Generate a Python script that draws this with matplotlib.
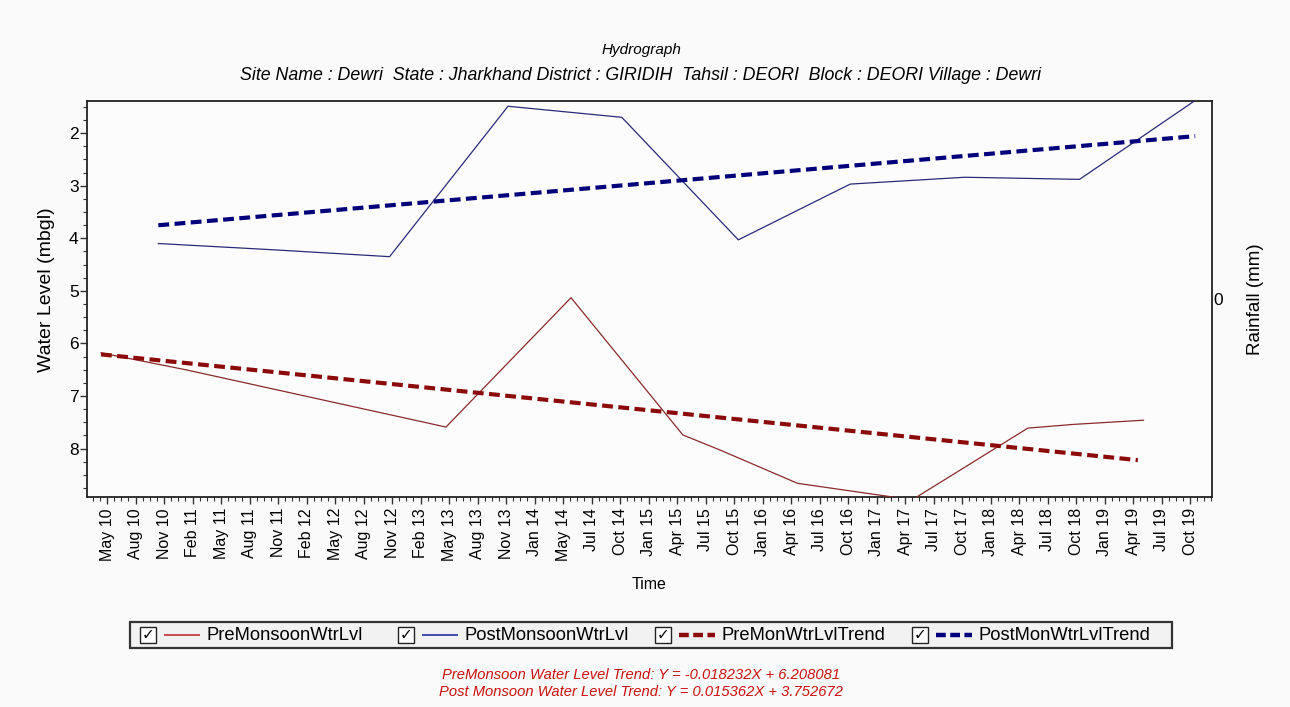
import numpy as np
import matplotlib
matplotlib.use("Agg")
import matplotlib.pyplot as plt
from matplotlib.lines import Line2D
from matplotlib.patches import Rectangle
from matplotlib.ticker import MultipleLocator, FixedLocator

# ---------------- data ----------------
# x in months since May 2010 (first pre-monsoon record)
pre_x = [0.0, 9.0, 36.7, 50.0, 61.9, 65.9, 74.1, 85.0, 86.6, 98.6, 103.4, 110.9]
pre_y = [6.18, 6.50, 7.59, 5.13, 7.74, 8.03, 8.66, 8.94, 8.94, 7.61, 7.54, 7.46]

post_x = [6.1, 18.4, 30.7, 43.3, 55.4, 67.8, 79.7, 91.9, 104.1, 116.4]
post_y = [4.10, 4.22, 4.35, 1.49, 1.70, 4.03, 2.97, 2.84, 2.88, 1.38]

# trend equations as printed (water level sign convention: depth = b - m*X)
pre_slope, pre_icpt = -0.018232, 6.208081
post_slope, post_icpt = 0.015362, 3.752672
pre_trend_span = (0.0, 110.3)     # months covered by pre trend
post_trend_span = (6.1, 116.4)    # months covered by post trend

tick_labels = ["May 10", "Aug 10", "Nov 10", "Feb 11", "May 11", "Aug 11", "Nov 11",
               "Feb 12", "May 12", "Aug 12", "Nov 12", "Feb 13", "May 13", "Aug 13",
               "Nov 13", "Jan 14", "May 14", "Jul 14", "Oct 14", "Jan 15", "Apr 15",
               "Jul 15", "Oct 15", "Jan 16", "Apr 16", "Jul 16", "Oct 16", "Jan 17",
               "Apr 17", "Jul 17", "Oct 17", "Jan 18", "Apr 18", "Jul 18", "Oct 18",
               "Jan 19", "Apr 19", "Jul 19", "Oct 19"]

legend_labels = ["PreMonsoonWtrLvl", "PostMonsoonWtrLvl", "PreMonWtrLvlTrend", "PostMonWtrLvlTrend"]

# ---------------- style ----------------
W, H = 1290, 707
plt.rcParams['font.family'] = ['Liberation Sans', 'DejaVu Sans']
BG = '#fafafa'
PRE_C = '#8a2a2a'
POST_C = '#2a2a78'
PRE_T = '#8b0a0a'
POST_T = '#00007a'

fig = plt.figure(figsize=(W / 100, H / 100), dpi=100, facecolor=BG)

def fx(x):
    return x / W

def fy(y):
    return 1 - y / H

L, R, T, B = 87, 1212, 101, 497
ax = fig.add_axes([fx(L), fy(B), fx(R) - fx(L), fy(T) - fy(B)])
ax.set_facecolor('#fcfcfc')

# lines
ax.plot(pre_x, pre_y, color=PRE_C, lw=0.9, zorder=3)
ax.plot(post_x, post_y, color=POST_C, lw=0.9, zorder=3)

xp = np.array(pre_trend_span)
ax.plot(xp, pre_icpt - pre_slope * (xp - pre_trend_span[0]), color=PRE_T, lw=3.0,
        dashes=(2.6, 1.3), solid_capstyle='butt', dash_capstyle='butt', zorder=4)
xq = np.array(post_trend_span)
ax.plot(xq, post_icpt - post_slope * (xq - post_trend_span[0]), color=POST_T, lw=3.0,
        dashes=(2.6, 1.3), solid_capstyle='butt', dash_capstyle='butt', zorder=4)

# axes
ax.set_xlim(-1.49, 118.19)
ax.set_ylim(8.92, 1.39)
tick_pos = np.linspace(0.64, 0.64 + 3.032 * (len(tick_labels) - 1), len(tick_labels))
ax.xaxis.set_major_locator(FixedLocator(tick_pos))
ax.set_xticklabels(tick_labels, rotation=90, fontsize=11.5)
ax.xaxis.set_minor_locator(FixedLocator(np.arange(tick_pos[0] - 3.032, 118.19, 3.032 / 4)))
ax.yaxis.set_major_locator(MultipleLocator(1))
ax.yaxis.set_minor_locator(MultipleLocator(0.25))
ax.tick_params(axis='both', which='major', direction='out', length=5, width=1, color='#333333')
ax.tick_params(axis='both', which='minor', direction='out', length=3, width=0.8, color='#333333')
ax.tick_params(axis='y', labelsize=12.5, pad=1)
ax.tick_params(axis='x', pad=3)
for s in ax.spines.values():
    s.set_linewidth(1.3)
    s.set_color('#222222')

ax.set_xlabel('Time', fontsize=11.5, labelpad=12)
ax.set_ylabel('Water Level (mbgl)', fontsize=14)
ax.yaxis.set_label_coords((55 - L) / (R - L), (B - 290) / (B - T))

ax2 = ax.twinx()
ax2.set_ylim(-1, 1)
ax2.set_yticks([0])
ax2.set_yticklabels(['0'], fontsize=12.5)
ax2.tick_params(axis='y', length=0, pad=1)
ax2.set_ylabel('Rainfall (mm)', fontsize=13.5)
ax2.yaxis.set_label_coords((1247 - L) / (R - L), 0.5)
for s in ax2.spines.values():
    s.set_visible(False)

# titles
fig.text(fx(641), fy(50), 'Hydrograph', ha='center', va='center', fontsize=11, style='italic')
fig.text(fx(641), fy(75),
         'Site Name : Dewri  State : Jharkhand District : GIRIDIH  Tahsil : DEORI  Block : DEORI Village : Dewri',
         ha='center', va='center', fontsize=12.8, style='italic')

# legend box
fig.add_artist(Rectangle((fx(130), fy(648)), fx(1172) - fx(130), fy(622) - fy(648),
                         transform=fig.transFigure, facecolor='#f2f2f2', edgecolor='#333333', lw=1.6))
cb_x = [140, 398, 655, 912]
styles = [dict(color='#c03030', lw=1.2), dict(color='#2030a0', lw=1.2),
          dict(color=PRE_T, lw=3.2, dashes=(2.2, 1.0)), dict(color=POST_T, lw=3.2, dashes=(2.2, 1.0))]
yc = 635
for cx, lab, st in zip(cb_x, legend_labels, styles):
    fig.add_artist(Rectangle((fx(cx), fy(yc + 8)), fx(16), fy(yc - 8) - fy(yc + 8),
                             transform=fig.transFigure, facecolor='white', edgecolor='#222222', lw=1.0))
    fig.text(fx(cx + 8), fy(yc), '\u2713', ha='center', va='center', fontsize=11, fontweight='bold',
             family='DejaVu Sans')
    fig.add_artist(Line2D([fx(cx + 24), fx(cx + 60)], [fy(yc), fy(yc)], transform=fig.transFigure,
                          solid_capstyle='butt', dash_capstyle='butt', **st))
    fig.text(fx(cx + 67), fy(yc), lab, ha='left', va='center', fontsize=13.2)

# trend equations
fig.text(fx(641), fy(675), 'PreMonsoon Water Level Trend: Y = %.6fX + %.6f' % (pre_slope, pre_icpt),
         ha='center', va='center', fontsize=10.6, style='italic', color='#cc1010')
fig.text(fx(641), fy(692), 'Post Monsoon Water Level Trend: Y = %.6fX + %.6f' % (post_slope, post_icpt),
         ha='center', va='center', fontsize=10.6, style='italic', color='#cc1010')

fig.savefig('out.png', dpi=100, facecolor=BG)
